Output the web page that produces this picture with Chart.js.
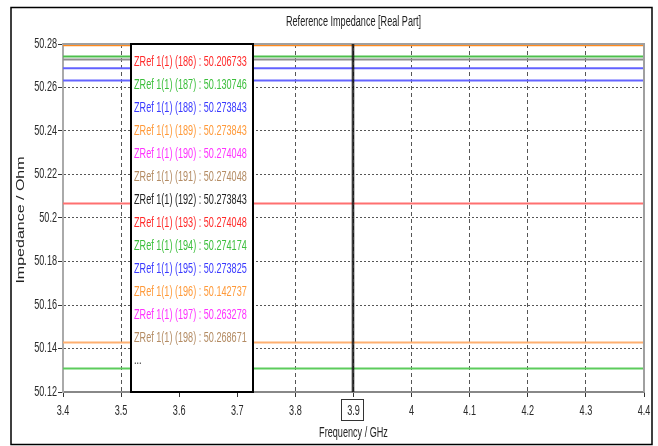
<!DOCTYPE html>
<html>
<head>
<meta charset="utf-8">
<script src="https://cdn.jsdelivr.net/npm/chart.js@4.4.1/dist/chart.umd.min.js"></script>
<style>
  html, body { margin: 0; padding: 0; background: #fff; }
  canvas { display: block; }
</style>
</head>
<body>
<canvas id="myChart" width="658" height="446"></canvas>
<script>
// Values
const freqRange = [3.4, 4.4];
const xTickLabels = ['3.4', '3.5', '3.6', '3.7', '3.8', '3.9', '4', '4.1', '4.2', '4.3', '4.4'];
const yTickLabels = ['50.12', '50.14', '50.16', '50.18', '50.2', '50.22', '50.24', '50.26', '50.28'];

// horizontal curves that are visible in the plot
const lineValues = [50.2794, 50.2743, 50.2729, 50.2689, 50.2632, 50.2067, 50.1428, 50.1308];
const lineColors = ['#ff8a1e', '#4cbf4c', '#8e8e8e', '#6262ff', '#6464ff', '#ff7070', '#ffb070', '#5ccc5c'];

// marker box at 3.9 GHz
const markerFreq = 3.9;
const legendIds = [186, 187, 188, 189, 190, 191, 192, 193, 194, 195, 196, 197, 198];
const legendValues = ['50.206733', '50.130746', '50.273843', '50.273843', '50.274048', '50.274048', '50.273843',
    '50.274048', '50.274174', '50.273825', '50.142737', '50.263278', '50.268671'];
const legendColors = ['#ff2a2a', '#3cbf3c', '#3a3aff', '#ff9a3a', '#ff33ff', '#b48c64', '#222222',
    '#ff2a2a', '#3cbf3c', '#3a3aff', '#ff9a3a', '#ff33ff', '#b48c64'];

// the picture is squeezed sideways, so text is drawn narrower than the font
const FONT = "'Liberation Sans', Arial, sans-serif";
const SQUEEZE = 0.65;

let datasets = lineValues.map((v, i) => ({
    label: 'curve ' + (i + 1),
    data: [{ x: freqRange[0], y: v }, { x: freqRange[1], y: v }],
    borderColor: lineColors[i],
    borderWidth: 2,
    pointRadius: 0,
    fill: false,
}));

function drawText(c, text, x, y, size, align, color) {
    c.save();
    c.translate(x, y);
    c.scale(SQUEEZE, 1);
    c.font = size + 'px ' + FONT;
    c.textAlign = align;
    c.textBaseline = 'middle';
    c.fillStyle = color;
    c.fillText(text, 0, 0);
    c.restore();
}

// frame, plot border, marker, legend box, tick labels and titles
const decorations = {
    id: 'decorations',
    beforeDraw(chart) {
        const c = chart.ctx;
        c.save();
        c.fillStyle = '#fff';
        c.fillRect(0, 0, chart.width, chart.height);
        c.strokeStyle = '#000';
        c.lineWidth = 1.5;
        c.strokeRect(11, 7.5, 641, 437);
        c.restore();
    },
    afterDraw(chart) {
        const c = chart.ctx;
        const a = chart.chartArea;
        const xs = chart.scales.x;
        const ys = chart.scales.y;
        c.save();
        // top and right plot border
        c.strokeStyle = '#a0a0a0';
        c.lineWidth = 2;
        c.beginPath();
        c.moveTo(a.left, a.top);
        c.lineTo(a.right, a.top);
        c.lineTo(a.right, a.bottom);
        c.stroke();

        // marker line
        const mx = Math.round(xs.getPixelForValue(markerFreq));
        c.strokeStyle = 'rgba(0,0,0,0.25)';
        c.lineWidth = 4;
        c.beginPath();
        c.moveTo(mx, a.top);
        c.lineTo(mx, a.bottom);
        c.stroke();
        c.strokeStyle = '#111';
        c.lineWidth = 1.5;
        c.beginPath();
        c.moveTo(mx, a.top);
        c.lineTo(mx, a.bottom);
        c.stroke();

        // tick labels
        ys.ticks.forEach((t, i) => {
            drawText(c, yTickLabels[i], a.left - 6, ys.getPixelForTick(i), 14, 'right', '#2a2a2a');
        });
        xs.ticks.forEach((t, i) => {
            drawText(c, xTickLabels[i], xs.getPixelForTick(i), 411, 14, 'center', '#2a2a2a');
        });

        // marker tick label box
        c.strokeStyle = '#333';
        c.lineWidth = 1;
        c.strokeRect(mx - 11.5, 399.5, 22, 21);

        // legend box
        c.fillStyle = '#fff';
        c.fillRect(130, 44, 123, 348);
        c.strokeStyle = '#000';
        c.lineWidth = 2;
        c.strokeRect(131, 44, 122, 348);
        legendIds.forEach((id, i) => {
            drawText(c, 'ZRef 1(1) (' + id + ') : ' + legendValues[i], 134, 62 + 23 * i, 14, 'left', legendColors[i]);
        });
        drawText(c, '...', 134, 360, 14, 'left', '#222');

        // titles
        drawText(c, 'Reference Impedance [Real Part]', (a.left + a.right) / 2, 22, 14, 'center', '#222');
        drawText(c, 'Frequency / GHz', (a.left + a.right) / 2, 433, 14, 'center', '#222');
        c.translate(21, 220);
        c.rotate(-Math.PI / 2);
        c.scale(1, SQUEEZE);
        c.font = '16px ' + FONT;
        c.textAlign = 'center';
        c.textBaseline = 'middle';
        c.fillStyle = '#222';
        c.fillText('Impedance / Ohm', 0, 0);
        c.restore();
    }
};

const ctx = document.getElementById('myChart');
let myChart = new Chart(ctx, {
    type: 'line',
    data: { datasets: datasets },
    options: {
        responsive: false,
        animation: false,
        layout: { padding: { left: 0, top: 44, right: 14, bottom: 0 } },
        plugins: {
            legend: { display: false },
            tooltip: { enabled: false },
        },
        scales: {
            x: {
                type: 'linear',
                min: freqRange[0],
                max: freqRange[1],
                afterFit: (s) => { s.height = 54; },
                ticks: { stepSize: 0.1, display: false },
                grid: {
                    color: '#555',
                    tickLength: 5,
                    tickColor: '#333',
                },
                border: { color: '#888', width: 2, dash: [4, 3] },
            },
            y: {
                min: 50.12,
                max: 50.28,
                afterFit: (s) => { s.width = 63; },
                ticks: { stepSize: 0.02, display: false },
                grid: {
                    color: '#555',
                    tickLength: 5,
                    tickColor: '#333',
                },
                border: { color: '#aaa', width: 2, dash: [2, 2] },
            }
        }
    },
    plugins: [decorations],
});
</script>
</body>
</html>
